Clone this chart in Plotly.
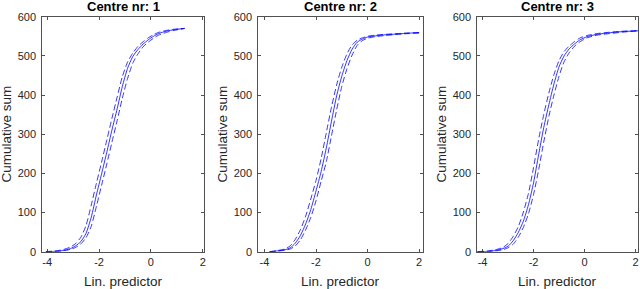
import plotly.graph_objects as go

# ---- data ----
x1 = [-4.05, -3.7, -3.4, -3.1, -2.9, -2.7, -2.5, -2.3, -2.1, -1.9, -1.7, -1.5,
      -1.3, -1.1, -0.9, -0.7, -0.5, -0.3, -0.1, 0.1, 0.3, 0.6, 0.9, 1.3]
mid1 = [0, 1, 3, 8, 15, 26, 47, 88, 145, 199, 254, 311,
        365, 422, 468, 498, 516, 530, 541, 550, 557, 563, 567, 570]
up1 = [0, 2, 5, 12, 21, 37, 67, 119, 175, 229, 285, 341,
       395, 447, 484, 507, 524, 536, 546, 554, 560, 565, 568, 570]
lo1 = [0, 0, 2, 6, 11, 20, 36, 65, 116, 170, 224, 280,
       335, 392, 442, 481, 505, 523, 535, 545, 553, 560, 565, 570]

x2 = [-3.8, -3.5, -3.2, -3.0, -2.8, -2.6, -2.4, -2.2, -2.0, -1.8, -1.6, -1.4,
      -1.2, -1.0, -0.8, -0.6, -0.4, -0.2, 0.0, 0.3, 0.7, 1.2, 1.6, 2.0]
mid2 = [0, 2, 5, 10, 22, 42, 71, 108, 155, 205, 265, 333,
        398, 448, 488, 517, 535, 543, 548, 551, 554, 556, 558, 559]
up2 = [0, 3, 7, 15, 32, 57, 91, 135, 182, 238, 304, 369,
       426, 471, 505, 528, 540, 546, 550, 553, 555, 557, 558.5, 559]
lo2 = [0, 1, 4, 7, 15, 31, 56, 88, 130, 180, 230, 296,
       362, 422, 467, 502, 527, 539, 545, 549, 552, 555, 557, 559]

x3 = [-4.2, -3.8, -3.5, -3.2, -3.0, -2.8, -2.6, -2.4, -2.2, -2.0, -1.8, -1.6,
      -1.4, -1.2, -1.0, -0.8, -0.6, -0.4, -0.2, 0.1, 0.5, 1.0, 1.5, 2.1]
mid3 = [0, 1, 3, 8, 14, 28, 49, 78, 120, 176, 248, 317,
        375, 428, 472, 500, 518, 530, 540, 549, 555, 559, 562, 564]
up3 = [0, 2, 5, 11, 21, 39, 64, 101, 149, 215, 287, 350,
       405, 452, 488, 511, 525, 536, 545, 552, 557, 560.5, 563, 564]
lo3 = [0, 0, 2, 5, 10, 19, 37, 62, 97, 146, 209, 280,
       345, 400, 448, 485, 508, 524, 535, 546, 553, 557, 560.5, 564]

panel_titles = ["Centre nr: 1", "Centre nr: 2", "Centre nr: 3"]
x_title = "Lin. predictor"
y_title = "Cumulative sum"
xtick_vals = [-4, -2, 0, 2]
xtick_text = ["-4", "-2", "0", "2"]
ytick_vals = [0, 100, 200, 300, 400, 500, 600]
ytick_text = ["0", "100", "200", "300", "400", "500", "600"]
x_ranges = [[-4.2, 2.05], [-4.25, 2.15], [-4.22, 2.1]]
y_range = [0, 600]

# ---- layout geometry (pixels) ----
W, H = 640, 289
px_x = [(42, 204), (258, 423), (477, 638)]
py_top, py_bot = 16.7, 251.7

BLUE = "#0000ff"
AX = "#262626"
FONT = "Liberation Sans, Arial, Helvetica, sans-serif"

panels = [(x1, mid1, up1, lo1), (x2, mid2, up2, lo2), (x3, mid3, up3, lo3)]

fig = go.Figure()
annotations = []
layout = dict(
    width=W, height=H,
    margin=dict(l=0, r=0, t=0, b=0),
    paper_bgcolor="white", plot_bgcolor="white",
    showlegend=False,
    font=dict(family=FONT, color=AX, size=11),
)

for i, (xs, m, u, l) in enumerate(panels):
    k = "" if i == 0 else str(i + 1)
    xa, ya = "x" + k, "y" + k
    for ys, dash in ((u, "6px,3px"), (l, "6px,3px"), (m, "solid")):
        fig.add_trace(go.Scatter(
            x=xs, y=ys, mode="lines", xaxis=xa, yaxis=ya,
            line=dict(color=BLUE, width=0.8, dash=dash, shape="spline", smoothing=0.6),
            hoverinfo="skip"))
    x0, x1p = px_x[i]
    common = dict(showline=True, linecolor=AX, linewidth=0.8, mirror="ticks",
                  ticks="inside", ticklen=3, tickwidth=0.8, tickcolor=AX,
                  showgrid=False, zeroline=False, automargin=False,
                  tickfont=dict(family=FONT, size=11, color=AX))
    layout["xaxis" + k] = dict(
        domain=[x0 / W, x1p / W], anchor=ya, range=x_ranges[i],
        tickmode="array", tickvals=xtick_vals, ticktext=xtick_text, **common)
    layout["yaxis" + k] = dict(
        domain=[1 - py_bot / H, 1 - py_top / H], anchor=xa, range=y_range,
        tickmode="array", tickvals=ytick_vals, ticktext=ytick_text,
        ticklabelstandoff=3, **common)
    cx = (x0 + x1p) / 2
    annotations.append(dict(text="<b>" + panel_titles[i] + "</b>", x=cx / W, y=1 - 6.5 / H,
                            xref="paper", yref="paper", showarrow=False,
                            xanchor="center", yanchor="middle",
                            font=dict(family=FONT, size=13, color="black")))
    annotations.append(dict(text=x_title, x=cx / W, y=1 - 281.5 / H,
                            xref="paper", yref="paper", showarrow=False,
                            xanchor="center", yanchor="middle",
                            font=dict(family=FONT, size=13.5, color=AX)))
    annotations.append(dict(text=y_title, x=(x0 - 36.5) / W, y=1 - 134 / H,
                            xref="paper", yref="paper", showarrow=False, textangle=-90,
                            xanchor="center", yanchor="middle",
                            font=dict(family=FONT, size=13.5, color=AX)))

layout["annotations"] = annotations
fig.update_layout(**layout)
fig.write_html(
    "out.html",
    config={"displayModeBar": False, "staticPlot": True},
    post_script="document.body.style.margin='0px';document.body.style.padding='0px';"
                "document.body.style.overflow='hidden';",
)
